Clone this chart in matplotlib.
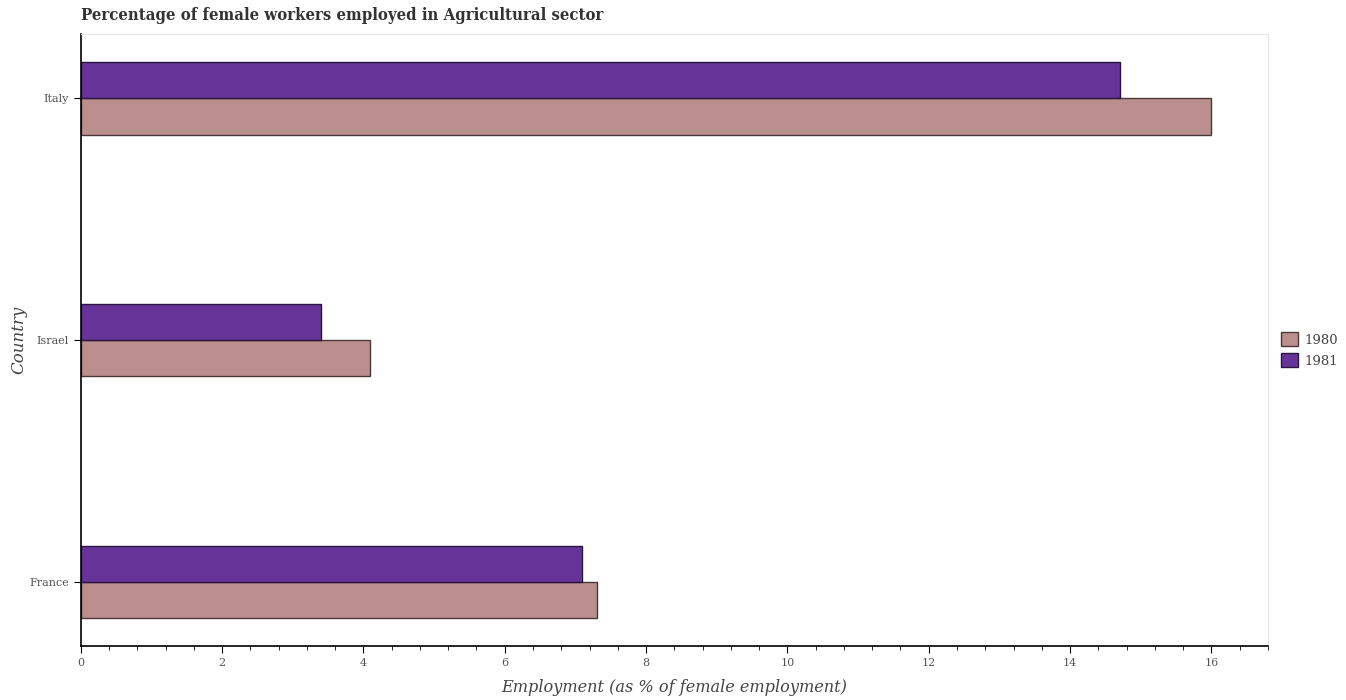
import numpy as np
import matplotlib
matplotlib.use("Agg")
import matplotlib.pyplot as plt
from matplotlib.ticker import MultipleLocator

# data
countries = ["France", "Israel", "Italy"]
values_1980 = [7.3, 4.1, 16.0]
values_1981 = [7.1, 3.4, 14.7]
years = ["1980", "1981"]

plt.rcParams["font.family"] = "DejaVu Serif"

fig = plt.figure(figsize=(13.46, 7.0), dpi=100)
ax = fig.add_axes([0.060, 0.077, 0.882, 0.874])

y = np.arange(len(countries))
h = 0.15
ax.barh(y - h / 2, values_1980, height=h, color="#bc8f8f", edgecolor="#4a3838",
        linewidth=1.0, label=years[0])
ax.barh(y + h / 2, values_1981, height=h, color="#663399", edgecolor="#2a1540",
        linewidth=1.0, label=years[1])

ax.set_yticks(y)
ax.set_yticklabels(countries)
ax.set_xlim(0, 16.8)
ax.xaxis.set_major_locator(MultipleLocator(2))
ax.xaxis.set_minor_locator(MultipleLocator(0.4))
ax.tick_params(axis="both", which="major", labelsize=8, labelcolor="#555555",
               length=5, color="black")
ax.tick_params(axis="x", which="minor", length=3, color="black")

for side in ["top", "right"]:
    ax.spines[side].set_color("#e6e6e6")
for side in ["left", "bottom"]:
    ax.spines[side].set_color("black")
    ax.spines[side].set_linewidth(1.2)

ax.set_xlabel("Employment (as % of female employment)", fontsize=11.6,
              style="italic", color="#444444", labelpad=8)
ax.set_ylabel("Country", fontsize=12, style="italic", color="#444444", labelpad=1)
ax.set_title("Percentage of female workers employed in Agricultural sector",
             loc="left", fontsize=12, fontweight="bold", fontstretch="condensed",
             color="#333333", pad=10)

ax.legend(loc="center left", bbox_to_anchor=(1.001, 0.484), frameon=False,
          fontsize=9.5, labelcolor="#444444", handlelength=1.3, handleheight=1.25,
          handletextpad=0.5, labelspacing=0.5)

fig.savefig("out.png", dpi=100)
